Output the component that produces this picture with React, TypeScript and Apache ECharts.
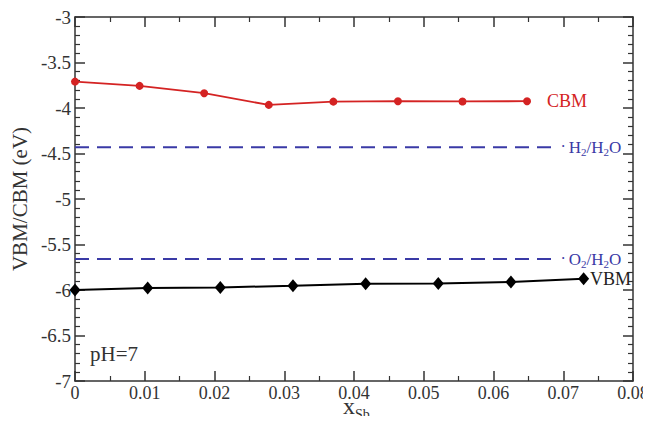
import React, { useEffect, useRef } from "react";
import * as echarts from "echarts";

const cbmX = [0, 0.00926, 0.01852, 0.02778, 0.03704, 0.0463, 0.05556, 0.06481];
const cbmY = [-3.71, -3.757, -3.837, -3.966, -3.93, -3.925, -3.928, -3.925];
const vbmX = [0, 0.01042, 0.02083, 0.03125, 0.04167, 0.05208, 0.0625, 0.07292];
const vbmY = [-6.0, -5.979, -5.972, -5.953, -5.931, -5.928, -5.912, -5.876];
const levelX = [0, 0.0686];
const h2Level = -4.43;
const o2Level = -5.66;
const xTicks = [0, 0.01, 0.02, 0.03, 0.04, 0.05, 0.06, 0.07, 0.08];
const yTicks = [-7, -6.5, -6, -5.5, -5, -4.5, -4, -3.5, -3];

const FONT = "'Liberation Serif', 'DejaVu Serif', serif";
const BLUE = "#3a3aa6";
const RED = "#d42323";
const AX = "#333333";

const subRich = (color: string) => ({
  d: { fontFamily: FONT, fontSize: 16, color, padding: [0, 3, 0, 0], verticalAlign: "top", lineHeight: 17 },
  a: { fontFamily: FONT, fontSize: 17, color, verticalAlign: "top", lineHeight: 17 },
  s: { fontFamily: FONT, fontSize: 11, color, padding: [9, 0, 0, 0], lineHeight: 11 },
});

export default function App() {
  const ref = useRef<HTMLDivElement>(null);
  useEffect(() => {
    if (!ref.current) return;
    const chart = echarts.init(ref.current, null, { renderer: "svg" });
    const axisCommon = {
      axisLine: { show: true, onZero: false, lineStyle: { color: AX, width: 1.5 } },
      axisTick: { show: true, inside: true, length: 10, lineStyle: { color: AX, width: 1.5 } },
      minorTick: { show: true, length: 5, lineStyle: { color: AX, width: 1.2 } },
      splitLine: { show: false },
    };
    const levelSeries = (y: number, rich: string) => ({
      type: "line",
      xAxisIndex: 0,
      yAxisIndex: 0,
      symbol: "circle",
      symbolSize: 0.01,
      showSymbol: true,
      itemStyle: { color: BLUE },
      lineStyle: { color: BLUE, width: 2, type: [14, 8] },
      data: levelX.map((x, i) =>
        i === levelX.length - 1
          ? {
              value: [x, y],
              label: {
                show: true,
                position: "right",
                distance: 7,
                formatter: rich,
                rich: subRich(BLUE),
              },
            }
          : { value: [x, y] }
      ),
      z: 2,
    });
    chart.setOption({
      animation: false,
      grid: { left: 75, right: 18, top: 17, bottom: 43, outerBoundsMode: "none", containLabel: false },
      xAxis: [
        {
          type: "value",
          min: xTicks[0],
          max: xTicks[xTicks.length - 1],
          interval: 0.01,
          position: "bottom",
          ...axisCommon,
          minorTick: { ...axisCommon.minorTick, splitNumber: 2 },
          axisLabel: {
            fontFamily: FONT,
            fontSize: 18,
            lineHeight: 13,
            color: AX,
            margin: 5,
            formatter: (v: number) => String(parseFloat(v.toFixed(2))),
          },
        },
        {
          type: "value",
          min: xTicks[0],
          max: xTicks[xTicks.length - 1],
          interval: 0.01,
          position: "top",
          ...axisCommon,
          minorTick: { ...axisCommon.minorTick, splitNumber: 2 },
          axisLabel: { show: false },
        },
      ],
      yAxis: [
        {
          type: "value",
          min: yTicks[0],
          max: yTicks[yTicks.length - 1],
          interval: 0.5,
          position: "left",
          ...axisCommon,
          minorTick: { ...axisCommon.minorTick, splitNumber: 5 },
          axisLabel: { fontFamily: FONT, fontSize: 19, color: AX, margin: 4 },
          name: "VBM/CBM (eV)",
          nameLocation: "middle",
          nameGap: 42,
          nameTextStyle: { fontFamily: FONT, fontSize: 21, color: AX },
        },
        {
          type: "value",
          min: yTicks[0],
          max: yTicks[yTicks.length - 1],
          interval: 0.5,
          position: "right",
          ...axisCommon,
          minorTick: { ...axisCommon.minorTick, splitNumber: 5 },
          axisLabel: { show: false },
        },
      ],
      series: [
        levelSeries(h2Level, "{d|·}{a|H}{s|2}{a|/H}{s|2}{a|O}"),
        levelSeries(o2Level, "{d|·}{a|O}{s|2}{a|/H}{s|2}{a|O}"),
        {
          type: "line",
          xAxisIndex: 0,
          yAxisIndex: 0,
          symbol: "circle",
          symbolSize: 8,
          itemStyle: { color: RED },
          lineStyle: { color: RED, width: 1.8 },
          data: cbmX.map((x, i) =>
            i === cbmX.length - 1
              ? {
                  value: [x, cbmY[i]],
                  label: {
                    show: true,
                    position: "right",
                    distance: 16,
                    formatter: "CBM",
                    fontFamily: FONT,
                    fontSize: 18,
                    color: RED,
                  },
                }
              : { value: [x, cbmY[i]] }
          ),
          z: 3,
        },
        {
          type: "line",
          xAxisIndex: 0,
          yAxisIndex: 0,
          symbol: "diamond",
          symbolSize: [11, 13],
          itemStyle: { color: "#000" },
          lineStyle: { color: "#000", width: 2 },
          data: vbmX.map((x, i) =>
            i === vbmX.length - 1
              ? {
                  value: [x, vbmY[i]],
                  label: {
                    show: true,
                    position: "right",
                    distance: 1,
                    formatter: "VBM",
                    fontFamily: FONT,
                    fontSize: 18,
                    color: "#222",
                  },
                }
              : { value: [x, vbmY[i]] }
          ),
          z: 3,
        },
      ],
      graphic: [
        {
          type: "text",
          left: 90,
          top: 343,
          style: { text: "pH=7", font: `21px ${FONT}`, fill: AX },
        },
        {
          type: "text",
          style: {
            text: "x",
            x: 343,
            y: 406,
            verticalAlign: "middle",
            fontFamily: FONT,
            fontSize: 24,
            lineHeight: 10,
            fill: AX,
          },
        },
        {
          type: "text",
          style: {
            text: "Sb",
            x: 355,
            y: 414,
            verticalAlign: "middle",
            fontFamily: FONT,
            fontSize: 14,
            lineHeight: 11,
            fill: AX,
          },
        },
      ],
    });
    return () => chart.dispose();
  }, []);
  return <div ref={ref} style={{ width: 651, height: 424, margin: -8 }} />;
}
